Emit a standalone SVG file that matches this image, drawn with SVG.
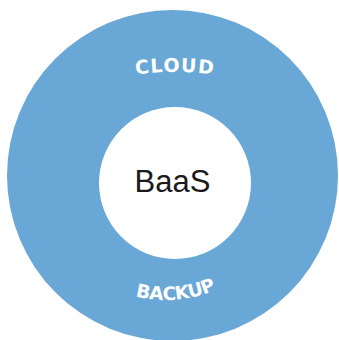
<svg xmlns="http://www.w3.org/2000/svg" width="339" height="340" viewBox="0 0 339 340">
  <style>
    .ring { fill: #69a8d6; }
    .hole { fill: #ffffff; }
    .arc-label { font-family: "DejaVu Sans", "Liberation Sans", sans-serif; font-weight: bold; fill: #ffffff; }
    .center-label { font-family: "Liberation Sans", Arial, sans-serif; font-size: 31px; fill: #1a1a1a; }
  </style>
  <defs>
    <path id="topArc" d="M 115,78 A 300 300 0 0 1 235,78" fill="none"/>
    <path id="bottomArc" d="M 41,175 A 125 125 0 0 0 291,175" fill="none"/>
  </defs>
  <rect width="339" height="340" fill="#ffffff"/>
  <g id="ring-cloud-backup">
    <circle class="ring" cx="172.5" cy="175.5" r="165.5"/>
    <text class="arc-label" font-size="19" letter-spacing="1.2" text-anchor="middle">
      <textPath href="#topArc" startOffset="50%">CLOUD</textPath>
    </text>
    <text class="arc-label" font-size="18.5" letter-spacing="-0.4" text-anchor="middle">
      <textPath href="#bottomArc" startOffset="52.6%">BACKUP</textPath>
    </text>
  </g>
  <g id="baas">
    <circle class="hole" cx="175" cy="183" r="76"/>
    <text class="center-label" x="172.5" y="191.5" text-anchor="middle">BaaS</text>
  </g>
  <g id="connectors"></g>
</svg>
